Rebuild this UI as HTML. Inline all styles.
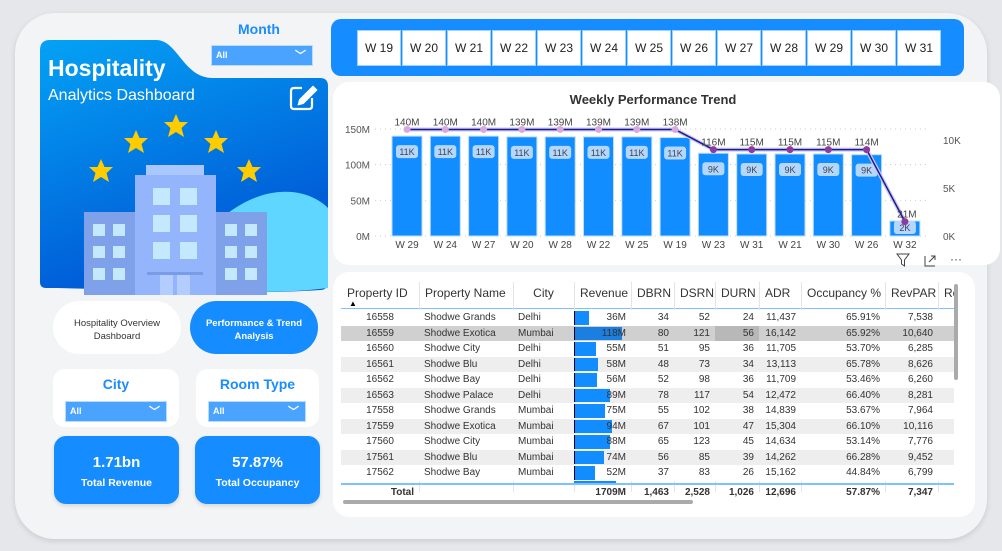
<!DOCTYPE html>
<html><head><meta charset="utf-8">
<style>
*{box-sizing:border-box;margin:0;padding:0}
body{width:1002px;height:551px;background:#e6e7ea;font-family:"Liberation Sans",sans-serif;position:relative;overflow:hidden}
.abs{position:absolute}
#panel{left:15px;top:13px;width:972px;height:526px;background:#f3f4f6;border-radius:40px;box-shadow:0 2px 6px rgba(0,0,0,.12)}
.dd{background:#4aa3ff;border:1px solid #b7dcff;color:#fff;font-size:9px;font-weight:bold;padding:4px 4px}
.dd span.chev{position:absolute;right:6px;top:1px;font-size:11px}
.card{background:#fff;border-radius:12px}
.kpi{background:#158cff;border-radius:12px;color:#fff;text-align:center;box-shadow:0 2px 4px rgba(0,0,0,.12)}
.wk{position:absolute;top:30px;width:44px;height:36px;background:#fff;border:1px solid #9fd0ff;font-size:12px;color:#222;text-align:center;line-height:34px}
table{border-collapse:collapse;font-size:10px;color:#333}
</style></head><body>
<div id="panel" class="abs"></div>

<!-- hero -->
<svg class="abs" style="left:38px;top:38px" width="292" height="258">
<defs><linearGradient id="hg" x1="0" y1="0" x2="0.4" y2="1"><stop offset="0" stop-color="#04a2f5"/><stop offset="1" stop-color="#0055d4"/></linearGradient></defs>
<path d="M12,2 H118 C140,2 145,40 175,40 H282 Q290,40 290,48 V244 Q290,252 282,252 C200,258 60,250 8,250 Q2,250 2,244 V12 Q2,2 12,2Z" fill="url(#hg)"/>
<path d="M190,175 C230,145 270,150 290,170 V250 C260,254 230,254 190,254Z" fill="#5fd6ff"/>
<g fill="#ffcc00">
<polygon id="st" points="0,-12 3.5,-4 12,-4 5.5,2 8,11 0,6 -8,11 -5.5,2 -12,-4 -3.5,-4" transform="translate(63,133)"/>
<use href="#st" x="35" y="-29"/><use href="#st" x="75" y="-45"/><use href="#st" x="115" y="-29"/><use href="#st" x="148" y="0"/>
</g>
<rect x="108" y="127" width="58" height="11" fill="#aac8ff"/>
<rect x="97" y="137" width="81" height="120" fill="#94b5fb"/>
<rect x="46" y="174" width="51" height="83" fill="#7ea1ea"/>
<rect x="178" y="174" width="51" height="83" fill="#7ea1ea"/>
<g fill="#c4e8fd">
<rect x="115" y="150" width="17" height="17"/><rect x="142" y="150" width="17" height="17"/>
<rect x="115" y="177" width="17" height="17"/><rect x="142" y="177" width="17" height="17"/>
<rect x="115" y="204" width="17" height="17"/><rect x="142" y="204" width="17" height="17"/>
<rect x="55" y="186" width="12" height="12"/><rect x="75" y="186" width="12" height="12"/>
<rect x="55" y="208" width="12" height="12"/><rect x="75" y="208" width="12" height="12"/>
<rect x="55" y="230" width="12" height="12"/><rect x="75" y="230" width="12" height="12"/>
<rect x="187" y="186" width="12" height="12"/><rect x="207" y="186" width="12" height="12"/>
<rect x="187" y="208" width="12" height="12"/><rect x="207" y="208" width="12" height="12"/>
<rect x="187" y="230" width="12" height="12"/><rect x="207" y="230" width="12" height="12"/>
</g>
<rect x="109" y="234" width="56" height="3" fill="#7a9be6"/>
<rect x="122" y="237" width="13" height="20" fill="#b4cdff"/><rect x="139" y="237" width="13" height="20" fill="#b4cdff"/>
<g fill="none" stroke="#fff" stroke-width="2.2"><path d="M264,50 H256 Q253,50 253,53 V68 Q253,71 256,71 H271 Q274,71 274,68 V60"/><path d="M262,62 L275,49 L278,52 L265,65 L261,66Z" fill="#fff"/></g>
</svg>
<div class="abs" style="left:48px;top:55px;color:#fff;font-size:23px;font-weight:bold">Hospitality</div>
<div class="abs" style="left:48px;top:87px;color:#fff;font-size:16px">Analytics Dashboard</div>

<div class="abs" style="left:238px;top:21px;color:#1a8cff;font-size:14px;font-weight:bold">Month</div>
<div class="abs dd" style="left:211px;top:45px;width:102px;height:21px">All<span class="chev">﹀</span></div>

<div class="abs" style="left:53px;top:301px;width:128px;height:53px;background:#fff;border-radius:27px;font-size:9.5px;color:#333;text-align:center;padding-top:16px;line-height:13px">Hospitality Overview<br>Dashboard</div>
<div class="abs" style="left:190px;top:301px;width:128px;height:53px;background:#158cff;border-radius:27px;font-size:9.5px;color:#fff;font-weight:bold;text-align:center;padding-top:16px;line-height:13px">Performance &amp; Trend<br>Analysis</div>

<div class="abs card" style="left:53px;top:369px;width:126px;height:58px"></div>
<div class="abs" style="left:53px;top:376px;width:126px;text-align:center;color:#1a8cff;font-size:14px;font-weight:bold">City</div>
<div class="abs dd" style="left:65px;top:401px;width:102px;height:21px">All<span class="chev">﹀</span></div>
<div class="abs card" style="left:196px;top:369px;width:123px;height:58px"></div>
<div class="abs" style="left:196px;top:376px;width:123px;text-align:center;color:#1a8cff;font-size:14px;font-weight:bold">Room Type</div>
<div class="abs dd" style="left:208px;top:401px;width:98px;height:21px">All<span class="chev">﹀</span></div>

<div class="abs kpi" style="left:54px;top:436px;width:125px;height:68px"><div style="font-size:15px;font-weight:bold;margin-top:18px">1.71bn</div><div style="font-size:10.5px;font-weight:bold;margin-top:6px">Total Revenue</div></div>
<div class="abs kpi" style="left:195px;top:436px;width:125px;height:68px"><div style="font-size:15px;font-weight:bold;margin-top:18px">57.87%</div><div style="font-size:10.5px;font-weight:bold;margin-top:6px">Total Occupancy</div></div>

<!-- week slicer -->
<div class="abs" style="left:331px;top:19px;width:633px;height:57px;background:#158cff;border-radius:10px"></div>
<div id="weeks"></div>

<!-- chart card -->
<div class="abs card" style="left:333px;top:82px;width:667px;height:183px;border-radius:16px"></div>
<div class="abs" style="left:333px;top:92px;width:640px;text-align:center;font-size:13px;font-weight:bold;color:#333">Weekly Performance Trend</div>
<svg id="chart" class="abs" style="left:0;top:0" width="1002" height="275"></svg>

<!-- table card -->
<div class="abs card" style="left:333px;top:272px;width:642px;height:245px;border-radius:16px"></div>
<div id="tbl" class="abs" style="left:341px;top:282px;width:613px;height:218px;overflow:hidden"></div>
<div class="abs" style="left:343px;top:500px;width:350px;height:4px;background:#aaa;border-radius:2px"></div>
<div class="abs" style="left:954px;top:284px;width:4px;height:96px;background:#aaa;border-radius:2px"></div>

<script>
const weeks=["W 19","W 20","W 21","W 22","W 23","W 24","W 25","W 26","W 27","W 28","W 29","W 30","W 31"];
const categories=["W 29","W 24","W 27","W 20","W 28","W 22","W 25","W 19","W 23","W 31","W 21","W 30","W 26","W 32"];
const revenueM=[140,140,140,139,139,139,139,138,116,115,115,115,114,21];
const bookingsK=[11.1,11.1,11.1,11.1,11.1,11.1,11.1,11.1,9.0,9.0,9.0,9.0,9.0,1.5];
const bookingLabels=["11K","11K","11K","11K","11K","11K","11K","11K","9K","9K","9K","9K","9K","2K"];
const leftTicks=[0,50,100,150];
const rightTicks=[0,5,10];

const wk=document.getElementById('weeks');
weeks.forEach((w,i)=>{const d=document.createElement('div');d.className='wk';d.style.left=(357+i*45)+'px';d.textContent=w;


wk.appendChild(d);});

const NS="http://www.w3.org/2000/svg",svg=document.getElementById('chart');
function el(t,a,txt){const e=document.createElementNS(NS,t);for(const k in a)e.setAttribute(k,a[k]);if(txt!==undefined)e.textContent=txt;svg.appendChild(e);return e;}
const y0=236,yL=v=>y0-v*(107/150),yR=v=>y0-v*9.6,xC=i=>407+i*38.3;
leftTicks.forEach(t=>{el('line',{x1:375,x2:930,y1:yL(t),y2:yL(t),stroke:'#ccc','stroke-dasharray':'1 4'});
const tx=el('text',{x:370,y:yL(t)+4,'text-anchor':'end','font-size':10,fill:'#555'},t+'M');

});
rightTicks.forEach(t=>{const tx=el('text',{x:943,y:yR(t)+4,'font-size':10,fill:'#555'},t+'K');

});
categories.forEach((c,i)=>{const x=xC(i);
const b=el('rect',{x:x-15,y:yL(revenueM[i]),width:30,height:y0-yL(revenueM[i]),fill:'#118dff',stroke:'#bcdcff','stroke-width':1});


const ly=Math.min(yL(revenueM[i])+10,y0-14);
el('rect',{x:x-11,y:ly-1,width:22,height:13,rx:3,fill:'#b3d7ff'});
const bl=el('text',{x:x,y:ly+9,'text-anchor':'middle','font-size':9,fill:'#444'},bookingLabels[i]);


const xl=el('text',{x:x,y:248,'text-anchor':'middle','font-size':10,fill:'#444'},c);

});
const pts=categories.map((c,i)=>xC(i)+','+yR(bookingsK[i])).join(' ');
el('polyline',{points:pts,fill:'none',stroke:'#c9c6f0','stroke-width':4});
const ln=el('polyline',{points:pts,fill:'none',stroke:'#1b1b8f','stroke-width':1.5});


categories.forEach((c,i)=>{const x=xC(i),y=yR(bookingsK[i]);
const p=el('circle',{cx:x,cy:y,r:3.5,fill:i<8?'#d9a8e0':'#8e3a9e'});


const t=el('text',{x:x+(i==13?2:0),y:y-4,'text-anchor':'middle','font-size':10,fill:'#444'},revenueM[i]+'M');

});
el('path',{d:'M897,254 h12 l-4.5,6 v6 l-3,-2 v-4z',fill:'none',stroke:'#444','stroke-width':1});
el('path',{d:'M925,256 v10 h10 M929,262 l6,-6 M931,256 h4 v4',fill:'none',stroke:'#444','stroke-width':1});
el('text',{x:950,y:263,'font-size':12,fill:'#444'},'···');

const cols=["Property ID","Property Name","City","Revenue","DBRN","DSRN","DURN","ADR","Occupancy %","RevPAR","Re"];
const colX=[341,419,513,574,631,674,715,759,801,885,938,960];
const align=["center","left","left","right","right","right","right","right","right","right","left"];
const ids=["16558","16559","16560","16561","16562","16563","17558","17559","17560","17561","17562"];
const names=["Shodwe Grands","Shodwe Exotica","Shodwe City","Shodwe Blu","Shodwe Bay","Shodwe Palace","Shodwe Grands","Shodwe Exotica","Shodwe City","Shodwe Blu","Shodwe Bay"];
const cities=["Delhi","Mumbai","Delhi","Delhi","Delhi","Delhi","Mumbai","Mumbai","Mumbai","Mumbai","Mumbai"];
const revenue=[36,118,55,58,56,89,75,94,88,74,52];
const dbrn=[34,80,51,48,52,78,55,67,65,56,37];
const dsrn=[52,121,95,73,98,117,102,101,123,85,83];
const durn=[24,56,36,34,36,54,38,47,45,39,26];
const adr=["11,437","16,142","11,705","13,113","11,709","12,472","14,839","15,304","14,634","14,262","15,162"];
const occ=["65.91%","65.92%","53.70%","65.78%","53.46%","66.40%","53.67%","66.10%","53.14%","66.28%","44.84%"];
const revpar=["7,538","10,640","6,285","8,626","6,260","8,281","7,964","10,116","7,776","9,452","6,799"];
const totals=["Total","","","1709M","1,463","2,528","1,026","12,696","57.87%","7,347",""];

const T=document.getElementById('tbl');
let h='<div style="position:absolute;left:0;top:0;width:613px;height:27px;border-bottom:1.5px solid #7fc0ff"></div>';
cols.forEach((c,j)=>{const l=colX[j]-341,w=colX[j+1]-colX[j];
h+=`<div style="position:absolute;left:${l}px;top:4px;width:${w}px;font-size:12px;color:#333;text-align:${j==2?'center':'left'};padding-left:${j==2?0:6}px;white-space:nowrap;overflow:hidden">${c}</div>`;
if(j>0)h+=`<div style="position:absolute;left:${l}px;top:0;width:1px;height:210px;background:#e4e4e4"></div>`;});
h+='<div style="position:absolute;left:8px;top:17px;font-size:8px">▲</div>';
ids.forEach((id,i)=>{const top=28+i*15.5;const bg=i==1?'#d0d0d0':(i%2?'#eeeeee':'#fff');
h+=`<div style="position:absolute;left:0;top:${top}px;width:613px;height:15.5px;background:${bg}"></div>`;
if(i==1)h+=`<div style="position:absolute;left:${715-341}px;top:${top}px;width:44px;height:15.5px;background:#b8b8b8"></div>`;
const bw=revenue[i]/118*48;
h+=`<div style="position:absolute;left:${574-341}px;top:${top+1}px;width:${bw}px;height:13.5px;background:${i==1?'#1a7fe0':'#118dff'};border-left:1px solid #003"></div>`;
const vals=[id,names[i],cities[i],revenue[i]+'M',dbrn[i],dsrn[i],durn[i],adr[i],occ[i],revpar[i],''];
vals.forEach((v,j)=>{const l=colX[j]-341,w=colX[j+1]-colX[j];
h+=`<div style="position:absolute;left:${l}px;top:${top+2}px;width:${w}px;font-size:10px;color:#333;text-align:${align[j]};padding:0 5px;white-space:nowrap;overflow:hidden">${v}</div>`;});});
h+=`<div style="position:absolute;left:${574-341}px;top:${28+11*15.5}px;width:42px;height:3px;background:#118dff"></div>`;
h+='<div style="position:absolute;left:0;top:201px;width:613px;height:1.5px;background:#7fc0ff"></div>';
totals.forEach((v,j)=>{const l=colX[j]-341,w=colX[j+1]-colX[j];
h+=`<div style="position:absolute;left:${l}px;top:205px;width:${w}px;font-size:10px;font-weight:bold;color:#333;text-align:right;padding:0 5px;white-space:nowrap">${v}</div>`;});
T.innerHTML=h;
</script>
</body></html>
